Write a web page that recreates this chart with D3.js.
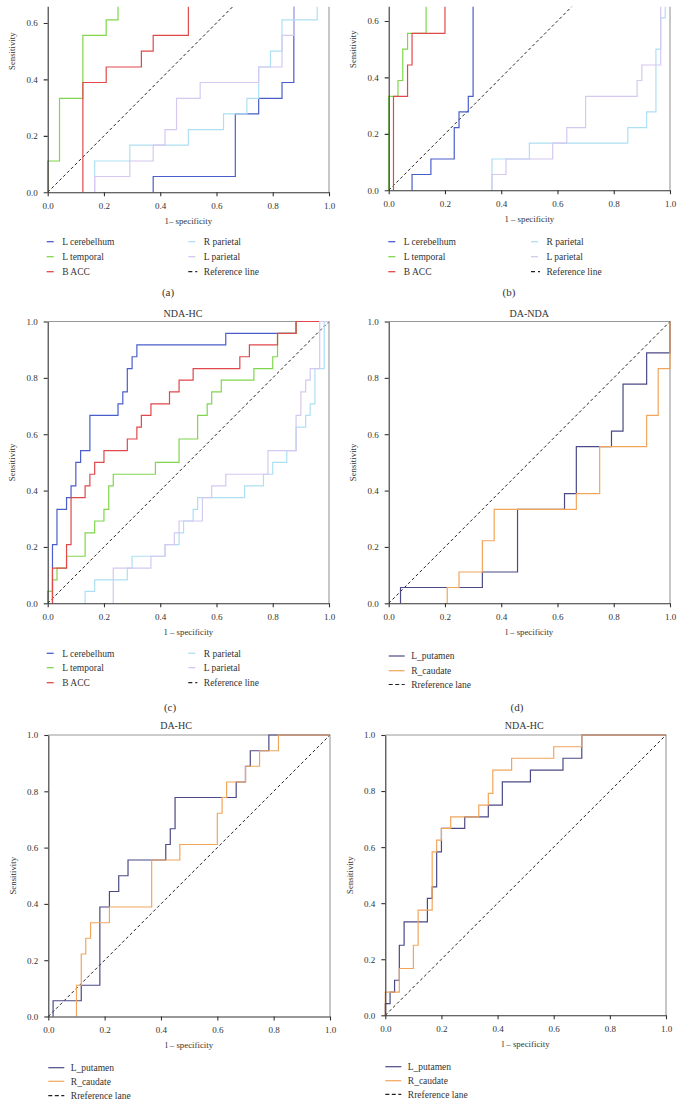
<!DOCTYPE html>
<meta charset="utf-8">
<style>
    body { margin: 0; background: #fff; }
    svg { display: block; }
    text { font-family: "Liberation Serif", "DejaVu Serif", serif; fill: #333; }
    .tick text { font-size: 9px; fill: #333; }
    .tick line, .domain { stroke: #333; stroke-width: 1.1; }
    .curve { fill: none; stroke-width: 1.2; }
    .ref { fill: none; stroke: #222; stroke-width: 1; stroke-dasharray: 3, 2.5; }
    .frame { fill: none; stroke: #999; stroke-width: 1.1; }
    .legend text { font-size: 9.5px; }
    .title { font-size: 10px; }
    .axis-label { font-size: 8.8px; }
    .letter { font-size: 11px; }
</style>
<script src="https://d3js.org/d3.v7.min.js"></script>
<svg width="682" height="1115"></svg>
<script>
    // axis ticks
    let ticks = [0, 0.2, 0.4, 0.6, 0.8, 1.0];

    // (a) curves, [1 - specificity, sensitivity]
    let aCerebellum = [[0.375,0],[0.375,0.056],[0.667,0.056],[0.667,0.278],[0.75,0.278],[0.75,0.333],[0.833,0.333],[0.833,0.389],[0.875,0.389],[0.875,0.667]];
    let aTemporal = [[0,0],[0,0.111],[0.042,0.111],[0.042,0.333],[0.125,0.333],[0.125,0.556],[0.208,0.556],[0.208,0.611],[0.25,0.611],[0.25,0.667]];
    let aACC = [[0.125,0],[0.125,0.389],[0.208,0.389],[0.208,0.444],[0.333,0.444],[0.333,0.5],[0.375,0.5],[0.375,0.556],[0.5,0.556],[0.5,0.667]];
    let aRParietal = [[0.167,0],[0.167,0.111],[0.292,0.111],[0.292,0.167],[0.5,0.167],[0.5,0.222],[0.625,0.222],[0.625,0.278],[0.708,0.278],[0.708,0.333],[0.75,0.333],[0.75,0.444],[0.792,0.444],[0.792,0.5],[0.833,0.5],[0.833,0.611],[0.958,0.611],[0.958,0.667]];
    let aLParietal = [[0.167,0],[0.167,0.056],[0.292,0.056],[0.292,0.111],[0.375,0.111],[0.375,0.167],[0.417,0.167],[0.417,0.222],[0.458,0.222],[0.458,0.333],[0.542,0.333],[0.542,0.389],[0.75,0.389],[0.75,0.444],[0.833,0.444],[0.833,0.556],[0.875,0.556],[0.875,0.667]];

    // (b)
    let bCerebellum = [[0.083,0],[0.083,0.056],[0.15,0.056],[0.15,0.111],[0.233,0.111],[0.233,0.222],[0.25,0.222],[0.25,0.278],[0.283,0.278],[0.283,0.333],[0.3,0.333],[0.3,0.667]];
    let bTemporal = [[0,0],[0,0.333],[0.033,0.333],[0.033,0.389],[0.05,0.389],[0.05,0.5],[0.067,0.5],[0.067,0.556],[0.133,0.556],[0.133,0.667]];
    let bACC = [[0.017,0],[0.017,0.333],[0.067,0.333],[0.067,0.444],[0.083,0.444],[0.083,0.556],[0.2,0.556],[0.2,0.667]];
    let bRParietal = [[0.367,0],[0.367,0.111],[0.5,0.111],[0.5,0.167],[0.85,0.167],[0.85,0.222],[0.917,0.222],[0.917,0.278],[0.95,0.278],[0.95,0.5],[0.967,0.5],[0.967,0.611],[0.983,0.611],[0.983,0.667]];
    let bLParietal = [[0.367,0],[0.367,0.056],[0.417,0.056],[0.417,0.111],[0.583,0.111],[0.583,0.167],[0.633,0.167],[0.633,0.222],[0.7,0.222],[0.7,0.333],[0.883,0.333],[0.883,0.389],[0.9,0.389],[0.9,0.444],[0.967,0.444],[0.967,0.667]];

    // (c) NDA-HC
    let cCerebellum = [[0.017,0],[0.017,0.208],[0.033,0.208],[0.033,0.333],[0.067,0.333],[0.067,0.375],[0.083,0.375],[0.083,0.417],[0.1,0.417],[0.1,0.5],[0.117,0.5],[0.117,0.542],[0.15,0.542],[0.15,0.667],[0.25,0.667],[0.25,0.708],[0.267,0.708],[0.267,0.75],[0.283,0.75],[0.283,0.833],[0.3,0.833],[0.3,0.875],[0.317,0.875],[0.317,0.917],[0.633,0.917],[0.633,0.958],[0.883,0.958],[0.883,1],[1,1]];
    let cTemporal = [[0,0],[0,0.042],[0.017,0.042],[0.017,0.083],[0.033,0.083],[0.033,0.125],[0.067,0.125],[0.067,0.167],[0.133,0.167],[0.133,0.25],[0.167,0.25],[0.167,0.292],[0.2,0.292],[0.2,0.333],[0.217,0.333],[0.217,0.417],[0.233,0.417],[0.233,0.458],[0.383,0.458],[0.383,0.5],[0.467,0.5],[0.467,0.583],[0.533,0.583],[0.533,0.667],[0.567,0.667],[0.567,0.708],[0.583,0.708],[0.583,0.75],[0.617,0.75],[0.617,0.792],[0.733,0.792],[0.733,0.833],[0.8,0.833],[0.8,0.875],[0.817,0.875],[0.817,0.958],[0.883,0.958],[0.883,1],[1,1]];
    let cACC = [[0.017,0],[0.017,0.125],[0.067,0.125],[0.067,0.208],[0.083,0.208],[0.083,0.375],[0.133,0.375],[0.133,0.417],[0.15,0.417],[0.15,0.458],[0.167,0.458],[0.167,0.5],[0.2,0.5],[0.2,0.542],[0.283,0.542],[0.283,0.583],[0.317,0.583],[0.317,0.625],[0.333,0.625],[0.333,0.667],[0.367,0.667],[0.367,0.708],[0.433,0.708],[0.433,0.75],[0.467,0.75],[0.467,0.792],[0.517,0.792],[0.517,0.833],[0.683,0.833],[0.683,0.875],[0.717,0.875],[0.717,0.917],[0.817,0.917],[0.817,0.958],[0.883,0.958],[0.883,1],[1,1]];
    let cRParietal = [[0.133,0],[0.133,0.042],[0.167,0.042],[0.167,0.083],[0.283,0.083],[0.283,0.125],[0.3,0.125],[0.3,0.167],[0.417,0.167],[0.417,0.208],[0.467,0.208],[0.467,0.25],[0.483,0.25],[0.483,0.292],[0.517,0.292],[0.517,0.333],[0.533,0.333],[0.533,0.375],[0.7,0.375],[0.7,0.417],[0.767,0.417],[0.767,0.458],[0.8,0.458],[0.8,0.5],[0.85,0.5],[0.85,0.542],[0.883,0.542],[0.883,0.625],[0.917,0.625],[0.917,0.667],[0.933,0.667],[0.933,0.708],[0.95,0.708],[0.95,0.833],[0.983,0.833],[0.983,1],[1,1]];
    let cLParietal = [[0.233,0],[0.233,0.125],[0.367,0.125],[0.367,0.167],[0.417,0.167],[0.417,0.208],[0.45,0.208],[0.45,0.25],[0.467,0.25],[0.467,0.292],[0.55,0.292],[0.55,0.375],[0.583,0.375],[0.583,0.417],[0.633,0.417],[0.633,0.458],[0.783,0.458],[0.783,0.542],[0.883,0.542],[0.883,0.667],[0.9,0.667],[0.9,0.75],[0.917,0.75],[0.917,0.792],[0.933,0.792],[0.933,0.833],[0.967,0.833],[0.967,1],[1,1]];

    // (d) DA-NDA
    let dPutamen = [[0.042,0],[0.042,0.056],[0.333,0.056],[0.333,0.111],[0.458,0.111],[0.458,0.333],[0.625,0.333],[0.625,0.389],[0.667,0.389],[0.667,0.556],[0.792,0.556],[0.792,0.611],[0.833,0.611],[0.833,0.778],[0.917,0.778],[0.917,0.889],[1,0.889],[1,1]];
    let dCaudate = [[0.208,0],[0.208,0.056],[0.25,0.056],[0.25,0.111],[0.333,0.111],[0.333,0.222],[0.375,0.222],[0.375,0.333],[0.667,0.333],[0.667,0.389],[0.75,0.389],[0.75,0.556],[0.917,0.556],[0.917,0.667],[0.958,0.667],[0.958,0.833],[1,0.833],[1,1]];

    // (e) DA-HC
    let ePutamen = [[0.017,0],[0.017,0.056],[0.117,0.056],[0.117,0.111],[0.183,0.111],[0.183,0.389],[0.217,0.389],[0.217,0.444],[0.25,0.444],[0.25,0.5],[0.283,0.5],[0.283,0.556],[0.417,0.556],[0.417,0.611],[0.433,0.611],[0.433,0.667],[0.45,0.667],[0.45,0.778],[0.667,0.778],[0.667,0.833],[0.7,0.833],[0.7,0.889],[0.717,0.889],[0.717,0.944],[0.783,0.944],[0.783,1],[1,1]];
    let eCaudate = [[0.1,0],[0.1,0.111],[0.117,0.111],[0.117,0.222],[0.133,0.222],[0.133,0.278],[0.15,0.278],[0.15,0.333],[0.217,0.333],[0.217,0.389],[0.367,0.389],[0.367,0.556],[0.467,0.556],[0.467,0.611],[0.6,0.611],[0.6,0.722],[0.617,0.722],[0.617,0.778],[0.633,0.778],[0.633,0.833],[0.7,0.833],[0.7,0.889],[0.75,0.889],[0.75,0.944],[0.817,0.944],[0.817,1],[1,1]];

    // (f) NDA-HC
    let fPutamen = [[0,0],[0,0.042],[0.017,0.042],[0.017,0.083],[0.033,0.083],[0.033,0.125],[0.05,0.125],[0.05,0.25],[0.067,0.25],[0.067,0.333],[0.15,0.333],[0.15,0.417],[0.167,0.417],[0.167,0.458],[0.183,0.458],[0.183,0.583],[0.2,0.583],[0.2,0.667],[0.283,0.667],[0.283,0.708],[0.367,0.708],[0.367,0.75],[0.417,0.75],[0.417,0.833],[0.517,0.833],[0.517,0.875],[0.633,0.875],[0.633,0.917],[0.7,0.917],[0.7,1],[1,1]];
    let fCaudate = [[0,0],[0,0.083],[0.05,0.083],[0.05,0.167],[0.1,0.167],[0.1,0.25],[0.117,0.25],[0.117,0.375],[0.167,0.375],[0.167,0.583],[0.183,0.583],[0.183,0.625],[0.2,0.625],[0.2,0.667],[0.233,0.667],[0.233,0.708],[0.333,0.708],[0.333,0.75],[0.367,0.75],[0.367,0.792],[0.383,0.792],[0.383,0.875],[0.45,0.875],[0.45,0.917],[0.6,0.917],[0.6,0.958],[0.7,0.958],[0.7,1],[1,1]];

    let color = {
        cerebellum: "#4a5ecb",
        temporal: "#80d64c",
        acc: "#e0484b",
        rParietal: "#ade0f2",
        lParietal: "#d5c8f1",
        putamen: "#4b4a86",
        caudate: "#f1a65c"
    };

    let svg = d3.select("svg");
    let fmt = d3.format(".1f");

    function sixSeries(cer, tem, acc, rp, lp) {
        return [
            {values: cer, color: color.cerebellum},
            {values: tem, color: color.temporal},
            {values: acc, color: color.acc},
            {values: rp, color: color.rParietal},
            {values: lp, color: color.lParietal}
        ];
    }
    function twoSeries(put, cau) {
        return [
            {values: put, color: color.putamen},
            {values: cau, color: color.caudate}
        ];
    }

    let panels = [
        {id: "a", left: 47.7, right: 329, bottom: 192.3, top: 192.3 - 282.2, clipTop: 6.7,
            series: sixSeries(aCerebellum, aTemporal, aACC, aRParietal, aLParietal),
            xLabel: "1\u2013 specificity", legend: "six", legendX: [46.7, 188.3], legendY: [241.7, 256.7, 271.7],
            letter: "(a)", letterPos: [168, 292]},
        {id: "b", left: 388.7, right: 670, bottom: 190.3, top: 190.3 - 282.2, clipTop: 6.7,
            series: sixSeries(bCerebellum, bTemporal, bACC, bRParietal, bLParietal),
            xLabel: "1 \u2013 specificity", legend: "six", legendX: [388.3, 531], legendY: [241.7, 256.7, 271.7],
            letter: "(b)", letterPos: [509, 292]},
        {id: "c", left: 47.7, right: 329, bottom: 603.3, top: 321.5, title: "NDA-HC", titlePos: [183, 313],
            series: sixSeries(cCerebellum, cTemporal, cACC, cRParietal, cLParietal),
            xLabel: "1 \u2013 specificity", legend: "six", legendX: [46.7, 188.3], legendY: [653.3, 667.7, 682.7],
            letter: "(c)", letterPos: [170, 707]},
        {id: "d", left: 388.7, right: 670, bottom: 603.3, top: 321.5, title: "DA-NDA", titlePos: [529.3, 313],
            series: twoSeries(dPutamen, dCaudate),
            xLabel: "l \u2013 specificity", legend: "two", legendX: [388.7], legendY: [656, 670.7, 684.5],
            letter: "(d)", letterPos: [517, 707]},
        {id: "e", left: 48.3, right: 330, bottom: 1016.5, top: 735, title: "DA-HC", titlePos: [176, 725],
            series: twoSeries(ePutamen, eCaudate),
            xLabel: "l \u2013 specificity", legend: "two", legendX: [48.3], legendY: [1067.7, 1081.3, 1095.7]},
        {id: "f", left: 385.3, right: 666, bottom: 1015.3, top: 735, title: "NDA-HC", titlePos: [524.3, 725],
            series: twoSeries(fPutamen, fCaudate),
            xLabel: "l \u2013 specificity", legend: "two", legendX: [385.3], legendY: [1066.7, 1080.7, 1094.3]}
    ];

    panels.forEach(drawPanel);

    function drawPanel(p) {
        let x = d3.scaleLinear().domain([0, 1]).range([p.left, p.right]);
        let y = d3.scaleLinear().domain([0, 1]).range([p.bottom, p.top]);
        let line = d3.line().x(function(d) { return x(d[0]); }).y(function(d) { return y(d[1]); });
        // only the ticks that fall inside the visible (cropped) part of the plot
        let yTicks = ticks.filter(function(t) { return p.clipTop == null || y(t) >= p.clipTop + 4; });

        let g = svg.append("g");
        if (p.clipTop != null) {
            svg.append("clipPath").attr("id", "clip-" + p.id)
                .append("rect")
                .attr("x", p.left - 60).attr("y", p.clipTop)
                .attr("width", p.right - p.left + 80).attr("height", p.bottom - p.clipTop + 40);
            g.attr("clip-path", "url(#clip-" + p.id + ")");
        }

        // top/right frame
        g.append("path").attr("class", "frame")
            .attr("d", "M" + x(0) + "," + y(1) + "H" + x(1) + "V" + y(0));

        g.append("line").attr("class", "ref")
            .attr("x1", x(0)).attr("y1", y(0))
            .attr("x2", x(1)).attr("y2", y(1));

        g.selectAll(".curve").data(p.series).enter().append("path")
            .attr("class", "curve")
            .attr("stroke", function(d) { return d.color; })
            .attr("d", function(d) { return line(d.values); });

        g.append("g").attr("transform", "translate(0," + y(0) + ")")
            .call(d3.axisBottom(x).tickValues(ticks).tickFormat(fmt).tickSize(4).tickSizeOuter(0).tickPadding(6));
        g.append("g").attr("transform", "translate(" + x(0) + ",0)")
            .call(d3.axisLeft(y).tickValues(yTicks).tickFormat(fmt).tickSize(4).tickSizeOuter(0).tickPadding(6));

        // axis titles
        svg.append("text").attr("class", "axis-label")
            .attr("text-anchor", "middle")
            .attr("x", (x(0) + x(1)) / 2).attr("y", y(0) + 28.5).attr("dy", "0.35em")
            .text(p.xLabel);
        svg.append("text").attr("class", "axis-label")
            .attr("text-anchor", "middle")
            .attr("transform", "translate(" + (x(0) - 35.5) + "," + ((y(0) + y(1)) / 2) + ") rotate(-90)")
            .attr("dy", "0.35em")
            .text("Sensitivity");

        if (p.title) {
            svg.append("text").attr("class", "title").attr("text-anchor", "middle")
                .attr("x", p.titlePos[0]).attr("y", p.titlePos[1]).attr("dy", "0.35em")
                .text(p.title);
        }
        if (p.letter) {
            svg.append("text").attr("class", "letter").attr("text-anchor", "middle")
                .attr("x", p.letterPos[0]).attr("y", p.letterPos[1]).attr("dy", "0.35em")
                .text(p.letter);
        }

        let lg = svg.append("g").attr("class", "legend");
        if (p.legend === "six") {
            let items = [
                {label: "L cerebelhum", color: color.cerebellum, col: 0, row: 0},
                {label: "L temporal", color: color.temporal, col: 0, row: 1},
                {label: "B ACC", color: color.acc, col: 0, row: 2},
                {label: "R parietal", color: color.rParietal, col: 1, row: 0},
                {label: "L parietal", color: color.lParietal, col: 1, row: 1},
                {label: "Reference line", color: "#222", col: 1, row: 2, dash: "4,3"}
            ];
            items.forEach(function(it) {
                let lx = p.legendX[it.col], ly = p.legendY[it.row];
                lg.append("line")
                    .attr("x1", lx).attr("x2", lx + (it.dash ? 9 : 7))
                    .attr("y1", ly).attr("y2", ly)
                    .attr("stroke", it.color).attr("stroke-width", 1.3)
                    .attr("stroke-dasharray", it.dash || null);
                lg.append("text").attr("x", lx + 15.5).attr("y", ly).attr("dy", "0.35em").text(it.label);
            });
        } else {
            let items = [
                {label: "L_putamen", color: color.putamen},
                {label: "R_caudate", color: color.caudate},
                {label: "Rreference lane", color: "#222", dash: "4,2.5"}
            ];
            items.forEach(function(it, i) {
                let lx = p.legendX[0], ly = p.legendY[i];
                lg.append("line")
                    .attr("x1", lx).attr("x2", lx + 16)
                    .attr("y1", ly).attr("y2", ly)
                    .attr("stroke", it.color).attr("stroke-width", 1.2)
                    .attr("stroke-dasharray", it.dash || null);
                lg.append("text").attr("x", lx + 22.5).attr("y", ly).attr("dy", "0.35em").text(it.label);
            });
        }
    }
</script>
